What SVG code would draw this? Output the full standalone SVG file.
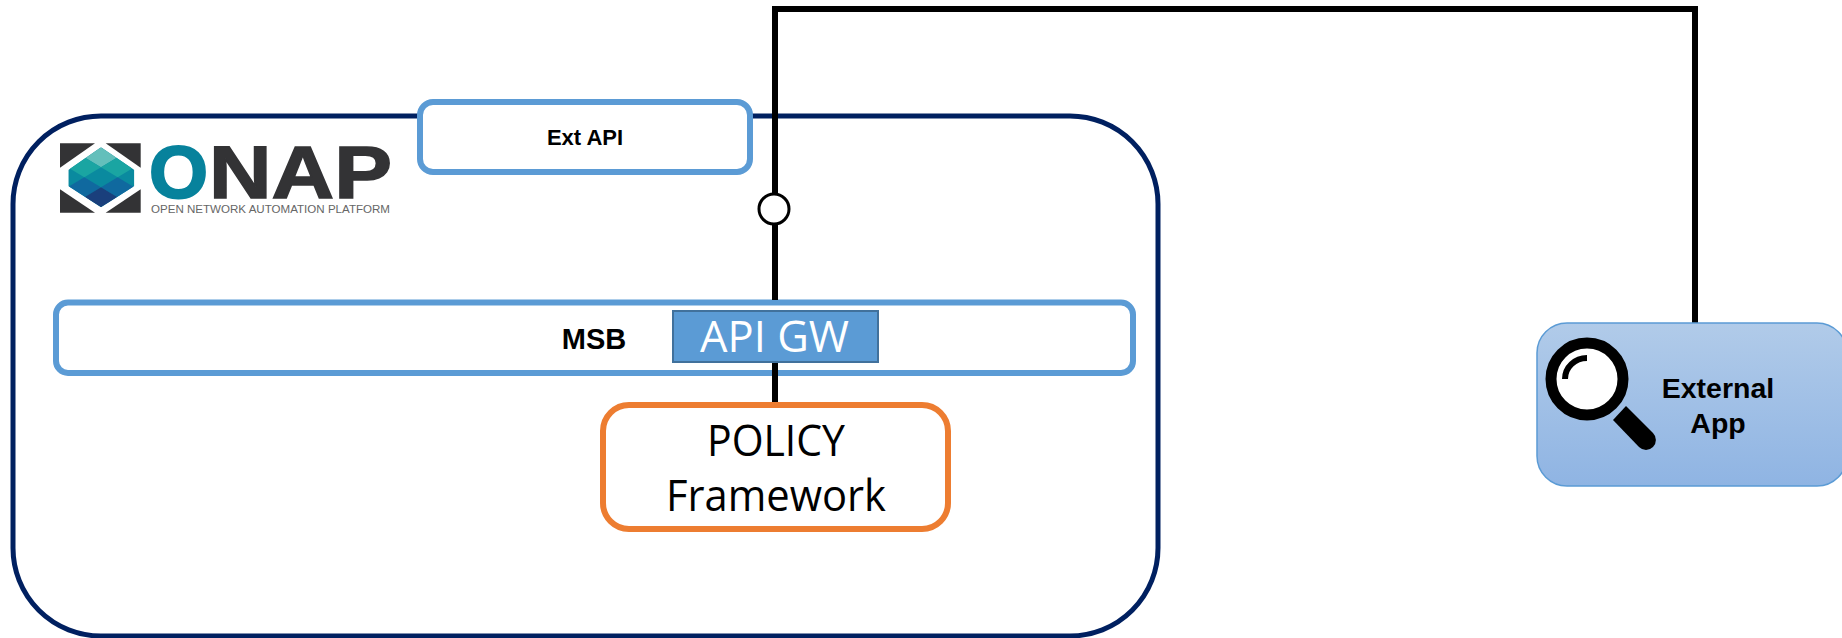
<svg xmlns="http://www.w3.org/2000/svg" width="1842" height="638" viewBox="0 0 1842 638">
<style>
.sans{font-family:"Liberation Sans",Arial,sans-serif}
.b{font-weight:700;fill:#000;text-anchor:middle}
.cal{font-family:"Open Sans","Noto Sans",sans-serif}
.blue{fill:#fff;stroke:#5B9BD5;stroke-width:6}
.wire{fill:none;stroke:#000;stroke-width:6}
</style>
<defs>
<linearGradient id="appFill" x1="0" y1="0" x2="0" y2="1"><stop offset="0" stop-color="#B1CBE9"/><stop offset="1" stop-color="#8FB4E3"/></linearGradient>
<clipPath id="hex"><polygon points="183,82 283,150 283,198 183,262 85,198 85,150"/></clipPath>
</defs>
<rect width="1842" height="638" fill="#fff"/>
<g id="onap">
<rect x="13" y="116" width="1145" height="520" rx="88" ry="88" fill="#fff" stroke="#002060" stroke-width="5"/>
<g transform="translate(40 120) scale(0.3333)">
<g fill="#333335">
<polygon points="60,70 165,70 60,143"/>
<polygon points="197,70 302,70 302,143"/>
<polygon points="60,208 165,278 60,278"/>
<polygon points="302,208 197,278 302,278"/>
</g>
<g clip-path="url(#hex)">
<rect x="80" y="80" width="210" height="190" fill="#0A8A9F"/>
<polygon points="183,82 233,112 183,142 133,112" fill="#63BFBB"/>
<polygon points="133,112 183,142 133,172 83,142" fill="#1AA5A2"/>
<polygon points="233,112 283,142 233,172 183,142" fill="#1AA5A2"/>
<polygon points="133,172 183,202 133,232 83,202" fill="#10699F"/>
<polygon points="233,172 283,202 233,232 183,202" fill="#10699F"/>
<polygon points="183,202 233,232 183,262 133,232" fill="#1A3F7C"/>
</g>
</g>
<text class="sans" x="149" y="198" font-size="74" font-weight="700" fill="#07829C" stroke="#07829C" stroke-width="2" textLength="59" lengthAdjust="spacingAndGlyphs">O</text>
<text class="sans" x="209" y="198" font-size="74" font-weight="700" fill="#333335" stroke="#333335" stroke-width="1.500" textLength="183" lengthAdjust="spacingAndGlyphs">NAP</text>
<text class="sans" x="151" y="213" font-size="11" fill="#666" textLength="239" lengthAdjust="spacingAndGlyphs">OPEN NETWORK AUTOMATION PLATFORM</text>
</g>
<g id="ext-api">
<rect class="blue" x="420" y="102" width="330" height="70" rx="13"/>
<text class="sans b" x="585" y="145" font-size="22">Ext API</text>
</g>
<g id="msb">
<rect class="blue" x="56" y="302.500" width="1077" height="70.500" rx="12"/>
<text class="sans b" x="594" y="349" font-size="29">MSB</text>
</g>
<g id="connectors">
<path class="wire" d="M775 300V9H1695V324"/>
<path class="wire" d="M775 360V402"/>
<circle cx="774" cy="209" r="15" fill="#fff" stroke="#000" stroke-width="3"/>
</g>
<g id="api-gw">
<rect x="673" y="311" width="205" height="51" fill="#5B9BD5" stroke="#41719C" stroke-width="2"/>
<text class="cal" x="700" y="352" font-size="43" fill="#fff" textLength="149" lengthAdjust="spacingAndGlyphs">API GW</text>
</g>
<g id="policy">
<rect x="603" y="405" width="345" height="124" rx="26" fill="#fff" stroke="#ED7D31" stroke-width="6"/>
<text class="cal" x="707" y="456" font-size="43" fill="#000" textLength="138" lengthAdjust="spacingAndGlyphs">POLICY</text>
<text class="cal" x="666" y="511" font-size="43" fill="#000" textLength="220" lengthAdjust="spacingAndGlyphs">Framework</text>
</g>
<g id="external-app">
<rect x="1537" y="323" width="310" height="163" rx="30" fill="url(#appFill)" stroke="#5B9BD5" stroke-width="1.500"/>
<circle cx="1587" cy="379" r="36" fill="#fff" stroke="#000" stroke-width="11"/>
<path d="M1565 379A22 21 0 0 1 1587 358" fill="none" stroke="#000" stroke-width="6"/>
<path d="M1626 406L1653 433A9.500 9.500 0 0 1 1639 447L1613 420Z" fill="#000"/>
<text class="sans b" x="1718" y="398" font-size="28.500">External</text>
<text class="sans b" x="1718" y="433" font-size="28.500">App</text>
</g>
</svg>
